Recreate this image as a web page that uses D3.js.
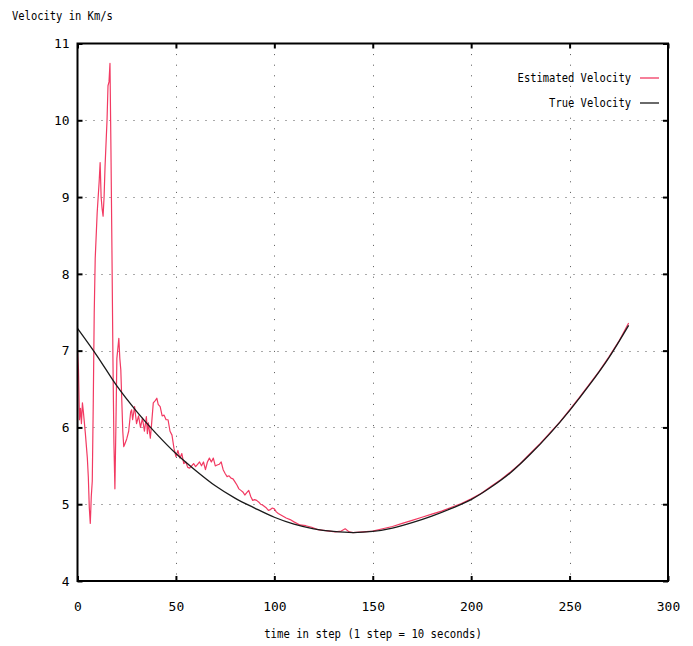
<!DOCTYPE html>
<html>
<head>
<meta charset="utf-8">
<script src="https://cdn.jsdelivr.net/npm/d3@7"></script>
<style>
  html, body { margin: 0; padding: 0; background: #fff; }
  svg { display: block; }
</style>
</head>
<body>
<svg id="chart" width="693" height="646"></svg>
<script>
// ---- data ----
const xTickValues = [0, 50, 100, 150, 200, 250, 300];
const yTickValues = [4, 5, 6, 7, 8, 9, 10, 11];
const seriesNames = ["Estimated Velocity", "True Velocity"];
const yTitle = "Velocity in Km/s";
const xTitle = "time in step (1 step = 10 seconds)";

const trueSteps = [0, 10, 20, 30, 40, 50, 60, 70, 80, 90, 100, 110, 120, 130, 140,
  150, 160, 170, 180, 190, 200, 210, 220, 230, 240, 250, 260, 270, 280];
const trueValues = [7.29, 6.93, 6.54, 6.21, 5.92, 5.66, 5.44, 5.24, 5.08, 4.95, 4.83, 4.74, 4.68, 4.645, 4.63,
  4.645, 4.69, 4.76, 4.845, 4.945, 5.06, 5.22, 5.41, 5.65, 5.92, 6.22, 6.55, 6.91, 7.33];

const estSteps = [0, 0.5, 1, 1.5, 2, 2.5, 3, 4, 5, 5.5, 6, 6.5, 7, 7.5, 8, 8.5, 9, 10, 11, 11.5,
  12, 12.5, 13, 13.5, 14, 15, 15.5, 16, 16.5, 17, 17.5, 18, 18.5, 19, 19.5, 20, 21, 21.5, 22, 23,
  23.5, 24, 25, 26, 27, 27.5, 28, 29, 30, 31, 32, 33, 34, 35, 35.5, 36, 37, 37.5, 38.5, 39.5,
  40.3, 41, 42, 43, 44, 45, 46, 47, 48, 49, 50, 51, 52, 53, 54, 55, 56, 57, 58, 59,
  60, 61, 62, 63, 64, 65, 66, 67, 68, 69, 70, 71, 72, 73, 74, 75, 76, 77, 78, 79,
  80, 81, 82, 83, 84, 85, 86, 87, 88, 89, 90, 91, 92, 93, 94, 95, 96, 97, 98, 99,
  100, 101, 102, 104, 106, 108, 110, 113, 116, 119, 122, 125, 128, 131, 134, 136, 138,
  140, 145, 150, 155, 160, 165, 170, 175, 180, 185, 190, 195, 200, 205, 210, 215, 220,
  225, 230, 235, 240, 245, 250, 255, 260, 265, 270, 275, 280];
const estValues = [7.0, 6.75, 6.1, 6.25, 6.05, 6.32, 6.2, 5.92, 5.6, 5.35, 4.95, 4.75, 5.1, 5.3, 6.3, 7.5, 8.2, 8.8, 9.2, 9.45,
  9.0, 8.85, 8.75, 9.0, 9.4, 10.0, 10.45, 10.5, 10.74, 9.6, 8.3, 6.9, 5.8, 5.2, 6.0, 6.9, 7.16, 6.9, 6.75, 5.95,
  5.75, 5.78, 5.85, 5.95, 6.2, 6.23, 6.1, 6.27, 6.05, 6.15, 6.0, 6.12, 5.95, 6.14, 5.92, 6.06, 5.86, 6.0, 6.32, 6.35,
  6.38, 6.3, 6.27, 6.15, 6.16, 6.1, 6.1, 5.95, 5.9, 5.73, 5.62, 5.7, 5.6, 5.66, 5.53, 5.55, 5.48, 5.47, 5.5, 5.53,
  5.49, 5.52, 5.55, 5.5, 5.55, 5.45, 5.55, 5.6, 5.55, 5.6, 5.5, 5.51, 5.52, 5.55, 5.45, 5.4, 5.36, 5.37, 5.34, 5.33,
  5.29, 5.25, 5.2, 5.18, 5.16, 5.12, 5.15, 5.18, 5.1, 5.05, 5.06, 5.05, 5.03, 5.0, 4.99, 4.97, 4.95, 4.92, 4.93, 4.95,
  4.94, 4.9, 4.88, 4.85, 4.82, 4.8, 4.77, 4.73, 4.72, 4.7, 4.67, 4.66, 4.65, 4.64, 4.65, 4.68, 4.64,
  4.63, 4.64, 4.65, 4.68, 4.71, 4.75, 4.79, 4.83, 4.87, 4.91, 4.96, 5.01, 5.07, 5.14, 5.23, 5.32, 5.42,
  5.53, 5.66, 5.79, 5.93, 6.07, 6.23, 6.39, 6.56, 6.73, 6.92, 7.12, 7.36];

// ---- layout ----
const svg = d3.select("#chart");
const L = 77.5, R = 668, T = 43.5, B = 581;
const x = d3.scaleLinear().domain([0, 300]).range([L, R]);
const y = d3.scaleLinear().domain([4, 11]).range([B, T]);
const redColor = "#f23a62";
const font = "'DejaVu Sans Mono', 'Liberation Mono', monospace";

function fitText(sel, charW) {
  sel.each(function () {
    const t = d3.select(this);
    const n = t.text().length;
    t.attr("textLength", n * charW).attr("lengthAdjust", "spacingAndGlyphs");
  });
}

// grid
const grid = svg.append("g").attr("stroke", "#555").attr("stroke-width", 1);
grid.selectAll("line.h").data(yTickValues.filter(v => v > 4 && v < 11)).join("line")
  .attr("class", "h")
  .attr("x1", L).attr("x2", R)
  .attr("y1", d => Math.round(y(d)) + 0.5).attr("y2", d => Math.round(y(d)) + 0.5)
  .attr("stroke-dasharray", "1,7");
grid.selectAll("line.v").data(xTickValues.filter(v => v > 0 && v < 300)).join("line")
  .attr("class", "v")
  .attr("y1", T).attr("y2", B)
  .attr("x1", d => Math.round(x(d)) + 0.5).attr("x2", d => Math.round(x(d)) + 0.5)
  .attr("stroke-dasharray", "1,9.6");

// lines
const estData = estSteps.map((s, i) => [s, estValues[i]]);
const trueData = trueSteps.map((s, i) => [s, trueValues[i]]);
svg.append("path").datum(estData)
  .attr("fill", "none").attr("stroke", redColor).attr("stroke-width", 1.2)
  .attr("stroke-linejoin", "round")
  .attr("d", d3.line().x(d => x(d[0])).y(d => y(d[1])));
svg.append("path").datum(trueData)
  .attr("fill", "none").attr("stroke", "#1a1a1a").attr("stroke-width", 1.3)
  .attr("d", d3.line().x(d => x(d[0])).y(d => y(d[1])).curve(d3.curveMonotoneX));

// axes
const axB = svg.append("g").attr("transform", `translate(0,${B})`)
  .call(d3.axisBottom(x).tickValues(xTickValues).tickSize(-5).tickPadding(21).tickFormat(d3.format("d")));
const axL = svg.append("g").attr("transform", `translate(${L},0)`)
  .call(d3.axisLeft(y).tickValues(yTickValues).tickSize(-5).tickPadding(8).tickFormat(d3.format("d")));
const axT = svg.append("g").attr("transform", `translate(0,${T})`)
  .call(d3.axisTop(x).tickValues(xTickValues).tickSize(-5).tickFormat(""));
const axR = svg.append("g").attr("transform", `translate(${R},0)`)
  .call(d3.axisRight(y).tickValues(yTickValues).tickSize(-5).tickFormat(""));
[axB, axL, axT, axR].forEach(a => {
  a.select(".domain").remove();
  a.selectAll(".tick line").attr("stroke", "#000").attr("stroke-width", 2);
  a.selectAll("text").attr("font-family", font).attr("font-size", 13).attr("fill", "#000");
});
axB.selectAll("text").call(fitText, 7.8);
axL.selectAll("text").call(fitText, 7.8);

// border
svg.append("rect").attr("x", L).attr("y", T).attr("width", R - L).attr("height", B - T)
  .attr("fill", "none").attr("stroke", "#000").attr("stroke-width", 2);

// titles
svg.append("text").attr("x", 12).attr("y", 20).text(yTitle)
  .attr("font-family", font).attr("font-size", 12).attr("fill", "#000").call(fitText, 6.3);
svg.append("text").attr("x", 373).attr("y", 638).attr("text-anchor", "middle").text(xTitle)
  .attr("font-family", font).attr("font-size", 12).attr("fill", "#000").call(fitText, 6.4);

// legend
const legend = svg.append("g");
const legColors = [redColor, "#1a1a1a"];
const legY = [78, 103];
seriesNames.forEach((name, i) => {
  legend.append("text").attr("x", 631).attr("y", legY[i] + 4).attr("text-anchor", "end")
    .text(name).attr("font-family", font).attr("font-size", 12).attr("fill", "#000").call(fitText, 6.3);
  legend.append("line").attr("x1", 640).attr("x2", 659).attr("y1", legY[i]).attr("y2", legY[i])
    .attr("stroke", legColors[i]).attr("stroke-width", 1.3);
});
</script>
</body>
</html>
